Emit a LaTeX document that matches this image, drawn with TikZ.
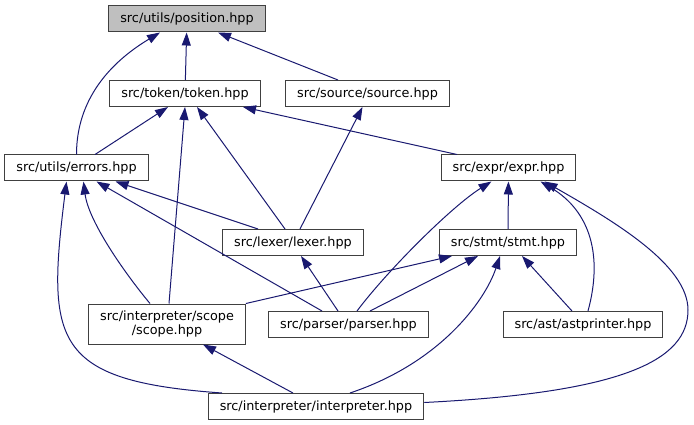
\documentclass[tikz,border=0pt]{standalone}
\usepackage{fontspec}
\setmainfont{DejaVu Sans}
\usepackage{xcolor}
\usetikzlibrary{arrows.meta,calc}
\definecolor{AzulArista}{RGB}{25,25,112}
\definecolor{GrisRaiz}{RGB}{191,191,191}
\definecolor{GrisBorde}{RGB}{64,64,64}

\begin{document}
\begin{tikzpicture}[x=1pt, y=-1pt, >={Triangle[length=13pt,width=9pt]},
    archivo/.style={draw=GrisBorde, line width=1pt, minimum height=26pt,
        inner xsep=11.5pt, font=\fontsize{12.8}{14.5}\selectfont},
    raiz/.style={archivo, fill=GrisRaiz},
    dep/.style={->, AzulArista, line width=1pt}]
    \useasboundingbox (0,0) rectangle (694,425);

    \node[raiz] (position) at (187,19) {src/utils/position.hpp};
    \node[archivo] (token) at (185,93.5) {src/token/token.hpp};
    \node[archivo] (source) at (367.5,93.5) {src/source/source.hpp};
    \node[archivo] (errors) at (76.5,168) {src/utils/errors.hpp};
    \node[archivo] (expr) at (508.5,168) {src/expr/expr.hpp};
    \node[archivo] (lexer) at (293,242.5) {src/lexer/lexer.hpp};
    \node[archivo] (stmt) at (508,242.5) {src/stmt/stmt.hpp};
    \node[archivo, align=center, minimum height=40pt] (scope) at (167,324)
        {src/interpreter/scope\\/scope.hpp};
    \node[archivo] (parser) at (348.5,324.5) {src/parser/parser.hpp};
    \node[archivo] (astprinter) at (583,324.5) {src/ast/astprinter.hpp};
    \node[archivo] (interpreter) at (316,406.5) {src/interpreter/interpreter.hpp};
    \coordinate (curva) at (688,310);

    \draw[dep] (token) -- (position);
    \draw[dep] ([xshift=-29.5pt]source.north) -- ([xshift=31pt]position.south);
    \draw[dep] (errors.north) .. controls +(0,-55) and +(-50,30) .. ([xshift=-27pt]position.south);

    \draw[dep] ([xshift=18.5pt]errors.north) -- ([xshift=-17pt]token.south);
    \draw[dep] ([xshift=2pt]scope.north) -- (token.south);
    \draw[dep] ([xshift=-8pt]lexer.north) -- ([xshift=12pt]token.south);
    \draw[dep] ([xshift=-51.5pt]expr.north) -- ([xshift=58pt]token.south);
    \draw[dep] ([xshift=7pt]lexer.north) -- ([xshift=-5pt]source.south);

    \draw[dep] ([xshift=-35pt]lexer.north) -- ([xshift=39pt]errors.south);
    \draw[dep] ([xshift=-26.5pt]parser.north) -- ([xshift=20pt]errors.south);
    \draw[dep] ([xshift=-17pt]scope.north) .. controls +(-25,-30) and +(5,40) .. ([xshift=7pt]errors.south);
    \draw[dep] ([xshift=-94pt]interpreter.north) .. controls +(-170,-12) and +(-20,160) .. ([xshift=-10pt]errors.south);

    \draw[dep] ([xshift=-10.5pt]parser.north) -- ([xshift=8pt]lexer.south);
    \draw[dep] (stmt) -- (expr);
    \draw[dep] ([xshift=8.5pt]parser.north) .. controls +(30,-40) and +(-40,25) .. ([xshift=-17pt]expr.south);
    \draw[dep] ([xshift=5pt]astprinter.north) .. controls +(15,-55) and +(50,30) .. ([xshift=32pt]expr.south);
    \draw[dep] ([yshift=4pt]interpreter.east) .. controls +(200,-10) and +(0,50) .. (curva)
        .. controls +(0,-45) and +(70,40) .. ([xshift=36pt]expr.south);

    \draw[dep] (scope.north east) -- ([xshift=-56pt]stmt.south);
    \draw[dep] ([xshift=21.5pt]parser.north) -- ([xshift=-30pt]stmt.south);
    \draw[dep] ([xshift=34pt]interpreter.north) .. controls +(90,-30) and +(-15,45) .. ([xshift=-8pt]stmt.south);
    \draw[dep] ([xshift=-11pt]astprinter.north) -- ([xshift=14pt]stmt.south);
    \draw[dep] ([xshift=-23pt]interpreter.north) -- ([xshift=36pt]scope.south);
\end{tikzpicture}
\end{document}
